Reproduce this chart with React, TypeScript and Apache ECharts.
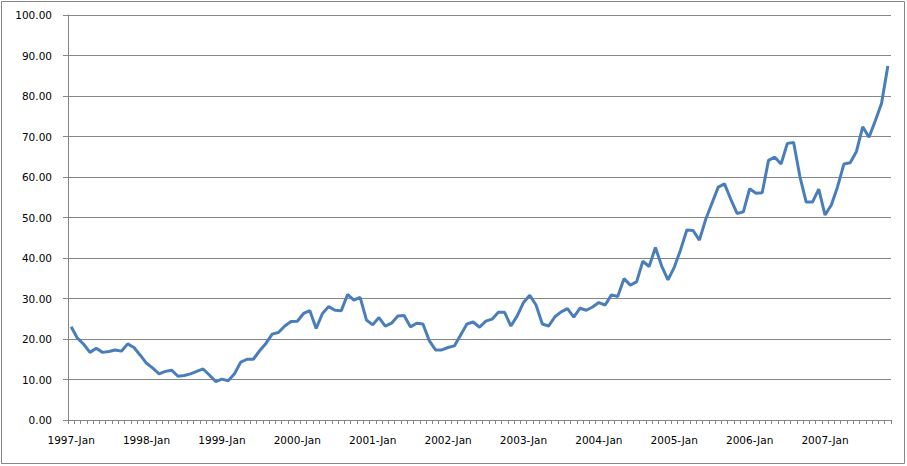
import React, { useEffect, useRef } from "react";
import * as echarts from "echarts";

const years = ["1997", "1998", "1999", "2000", "2001", "2002", "2003", "2004", "2005", "2006", "2007"];
const months = ["Jan", "Feb", "Mar", "Apr", "May", "Jun", "Jul", "Aug", "Sep", "Oct", "Nov", "Dec"];
const lastMonthCount = 131;

const prices = [
  23.0, 20.2, 18.7, 16.7, 17.7, 16.7, 16.9, 17.3, 17.0, 18.8, 17.9, 16.0,
  14.0, 12.8, 11.4, 12.0, 12.3, 10.8, 11.0, 11.4, 12.0, 12.6, 11.1, 9.5,
  10.1, 9.7, 11.4, 14.3, 15.0, 15.0, 17.1, 18.9, 21.2, 21.6, 23.2, 24.3,
  24.4, 26.3, 27.0, 22.6, 26.3, 28.0, 27.1, 27.0, 31.0, 29.6, 30.3, 24.7,
  23.5, 25.3, 23.2, 23.9, 25.7, 25.8, 23.0, 23.9, 23.7, 19.6, 17.3, 17.3,
  17.9, 18.3, 21.0, 23.7, 24.2, 22.9, 24.4, 24.9, 26.6, 26.6, 23.2, 25.7,
  29.0, 30.8, 28.4, 23.7, 23.2, 25.5, 26.7, 27.5, 25.4, 27.6, 27.1, 27.9,
  29.0, 28.4, 30.9, 30.5, 34.9, 33.3, 34.1, 39.2, 37.9, 42.6, 38.0, 34.6,
  37.7, 42.0, 46.9, 46.8, 44.4, 49.5, 53.5, 57.5, 58.3, 54.5, 51.0, 51.4,
  57.1, 56.0, 56.1, 64.1, 64.9, 63.2, 68.3, 68.5, 60.1, 53.8, 53.8, 57.0,
  50.6, 53.1, 57.6, 63.2, 63.5, 66.3, 72.4, 69.8, 73.9, 78.2, 87.4,
];

const categories: string[] = [];
for (const y of years) {
  for (const m of months) {
    if (categories.length < lastMonthCount) categories.push(`${y}-${m}`);
  }
}

const yTicks = { min: 0, max: 100, interval: 10 };

export default function App() {
  const ref = useRef<HTMLDivElement>(null);

  useEffect(() => {
    document.body.style.margin = "0";
    if (!ref.current) return;
    const chart = echarts.init(ref.current, undefined, { renderer: "svg" });
    const font = "DejaVu Sans";
    chart.setOption({
      animation: false,
      backgroundColor: "#ffffff",
      graphic: [
        {
          type: "rect",
          shape: { x: 1.5, y: 1.5, width: 903, height: 462 },
          style: { fill: "none", stroke: "#868686", lineWidth: 1 },
          silent: true,
        },
      ],
      grid: { left: 68, right: 16, top: 15, bottom: 46, containLabel: false },
      xAxis: {
        type: "category",
        data: categories,
        boundaryGap: true,
        axisLine: { show: true, lineStyle: { color: "#868686", width: 1 } },
        axisTick: {
          show: true,
          interval: 0,
          alignWithLabel: false,
          length: 4,
          inside: false,
          lineStyle: { color: "#868686" },
        },
        axisLabel: {
          interval: 11,
          margin: 14,
          color: "#000000",
          fontFamily: font,
          fontSize: 10.5,
        },
        splitLine: { show: false },
      },
      yAxis: {
        type: "value",
        min: yTicks.min,
        max: yTicks.max,
        interval: yTicks.interval,
        axisLine: { show: true, lineStyle: { color: "#868686", width: 1 } },
        axisTick: { show: true, length: 5, lineStyle: { color: "#868686" } },
        axisLabel: {
          margin: 16,
          color: "#000000",
          fontFamily: font,
          fontSize: 10.5,
          formatter: (v: number) => v.toFixed(2),
        },
        splitLine: { show: true, lineStyle: { color: "#868686", width: 1 } },
      },
      series: [
        {
          type: "line",
          data: prices,
          symbol: "none",
          smooth: false,
          lineStyle: { color: "#4a7ebb", width: 3 },
        },
      ],
    });
    return () => chart.dispose();
  }, []);

  return <div ref={ref} style={{ width: 907, height: 466 }} />;
}
